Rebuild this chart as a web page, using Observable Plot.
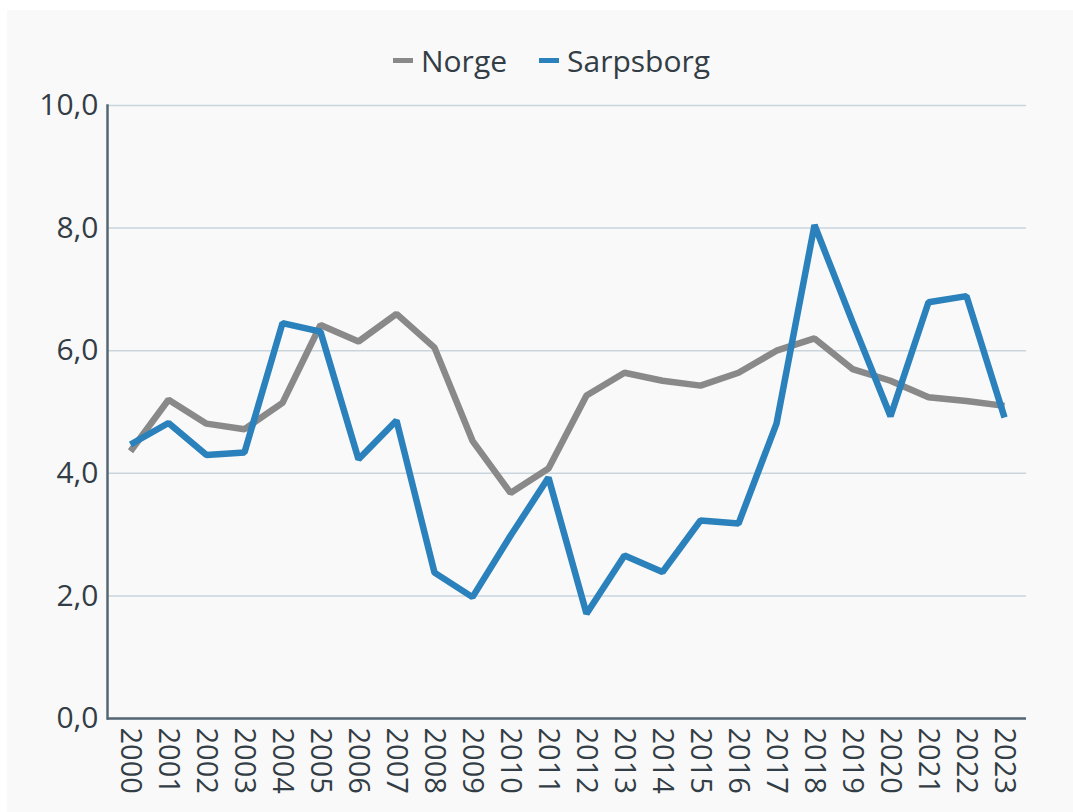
<!DOCTYPE html>
<html>
<head>
<meta charset="utf-8">
<script src="https://cdn.jsdelivr.net/npm/d3@7"></script>
<script src="https://cdn.jsdelivr.net/npm/@observablehq/plot@0.6"></script>
<style>
  html, body { margin: 0; padding: 0; background: #ffffff; }
  #panel { position: absolute; left: 7px; top: 10px; width: 1066px; height: 802px; background: #f9f9f9; font-family: "Open Sans", sans-serif; overflow: hidden; }
  #legend { position: absolute; left: 0; top: 0; width: 1066px; height: 100px; display: flex; justify-content: center; align-items: center; gap: 32px; font-size: 30px; color: #333d45; padding-left: 23px; box-sizing: border-box; z-index: 2; }
  .item { display: flex; align-items: center; gap: 8px; }
  .sw { width: 20px; height: 5px; display: inline-block; }
  #chart { position: absolute; left: 0; top: 0; }
</style>
</head>
<body>
<div id="panel">
  <div id="chart"></div>
  <div id="legend"></div>
</div>
<script>
const years = ["2000","2001","2002","2003","2004","2005","2006","2007","2008","2009","2010","2011","2012","2013","2014","2015","2016","2017","2018","2019","2020","2021","2022","2023"];
const norge = [4.36, 5.2, 4.81, 4.72, 5.15, 6.42, 6.15, 6.6, 6.05, 4.53, 3.68, 4.08, 5.27, 5.64, 5.51, 5.43, 5.64, 6.0, 6.2, 5.7, 5.51, 5.24, 5.18, 5.1];
const sarpsborg = [4.47, 4.82, 4.3, 4.34, 6.45, 6.31, 4.23, 4.86, 2.38, 1.98, 2.98, 3.93, 1.71, 2.66, 2.39, 3.23, 3.18, 4.81, 8.05, 6.47, 4.93, 6.79, 6.89, 4.91];
const seriesNames = ["Norge", "Sarpsborg"];
const seriesColors = ["#898989", "#2b81bc"];
const yTicks = [0, 2, 4, 6, 8, 10];

const rows = [];
years.forEach((y, i) => {
  rows.push({year: y, value: norge[i], series: "Norge"});
  rows.push({year: y, value: sarpsborg[i], series: "Sarpsborg"});
});

const legend = document.getElementById("legend");
seriesNames.forEach((n, i) => {
  const it = document.createElement("div");
  it.className = "item";
  const sw = document.createElement("span");
  sw.className = "sw";
  sw.style.background = seriesColors[i];
  const t = document.createElement("span");
  t.textContent = n;
  it.appendChild(sw); it.appendChild(t);
  legend.appendChild(it);
});

const fmt = d => d.toFixed(1).replace(".", ",");

const chart = Plot.plot({
  width: 1066,
  height: 802,
  marginLeft: 100,
  marginRight: 47,
  marginTop: 95,
  marginBottom: 94,
  style: {background: "transparent", fontFamily: "Open Sans, sans-serif", color: "#333d45"},
  x: {type: "point", domain: years, padding: 0.5, label: null},
  y: {domain: [0, 10], label: null},
  color: {domain: seriesNames, range: seriesColors},
  marks: [
    Plot.gridY(yTicks, {stroke: "#c9d5dc", strokeOpacity: 1, strokeWidth: 1.5}),
    Plot.axisY(yTicks, {tickSize: 0, tickPadding: 9, tickFormat: fmt, fontSize: 30, label: null}),
    Plot.axisX({tickSize: 0, tickPadding: 9, tickRotate: 90, fontSize: 29, label: null}),
    Plot.line(rows, {x: "year", y: "value", z: "series", stroke: "series", strokeWidth: 6.5, strokeLinejoin: "miter", strokeLinecap: "butt"}),
    Plot.ruleY([0], {stroke: "#536773", strokeWidth: 2.5}),
    Plot.frame({anchor: "left", stroke: "#536773", strokeWidth: 2.5})
  ]
});
document.getElementById("chart").appendChild(chart);
</script>
</body>
</html>
